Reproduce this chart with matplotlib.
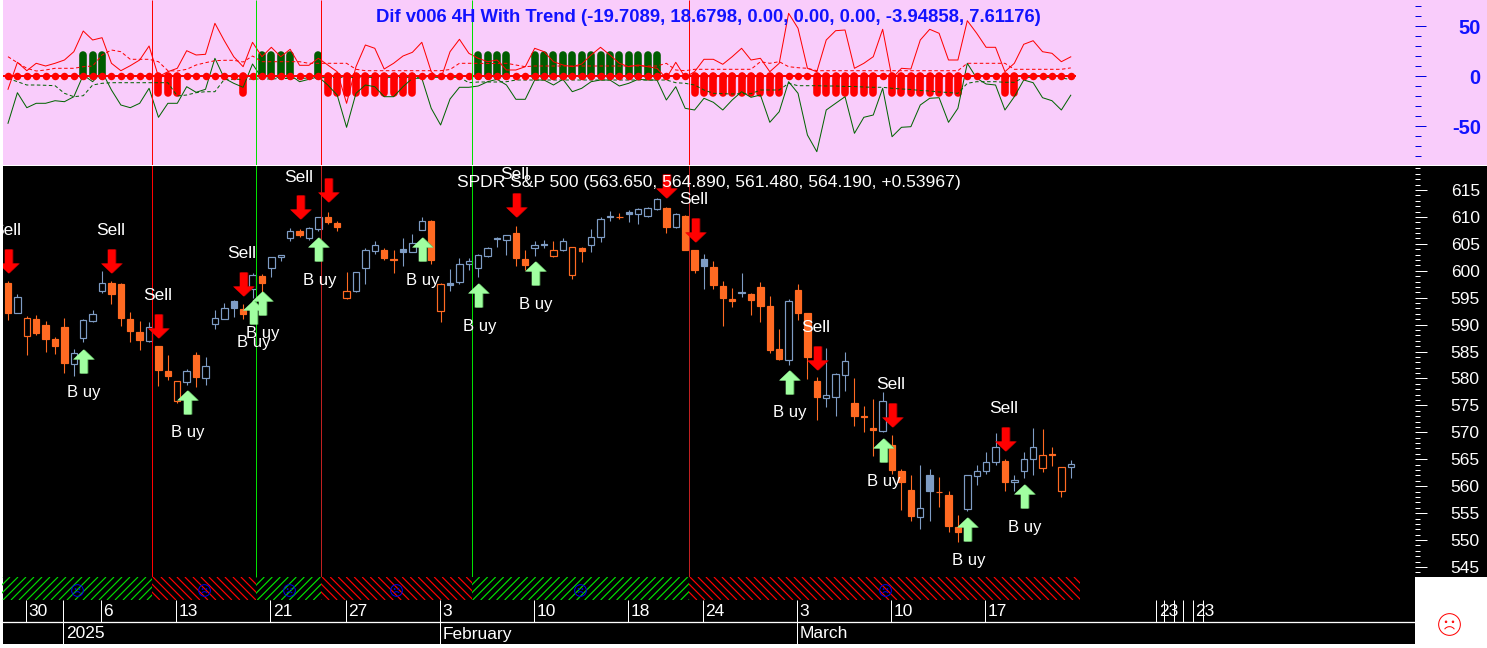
import matplotlib
matplotlib.use('Agg')
import matplotlib.pyplot as plt
from matplotlib.collections import LineCollection
from matplotlib.lines import Line2D
from matplotlib.patches import Rectangle
from matplotlib.path import Path
from matplotlib.ticker import MultipleLocator, FixedLocator
from matplotlib.transforms import Affine2D, ScaledTranslation

plt.rcParams['font.family'] = ['Liberation Sans', 'DejaVu Sans']
plt.rcParams['axes.unicode_minus'] = False

W, H = 1487, 648
DPI = 100
PX = 72 / DPI

# candle bodies and wicks, one entry per bar
body_top = [597.8, 595.1, 591.2, 591.0, 589.9, 587.3, 589.6, 584.7, 590.9, 592.0,
            597.7, 597.7, 597.5, 591.0, 588.6, 589.5, 586.0, 581.4, 579.5, 581.4,
            584.4, 582.3, 591.2, 593.0, 594.3, 592.9, 599.2, 599.0, 602.5, 603.0,
            607.4, 607.4, 607.9, 609.9, 610.0, 608.8, 596.3, 599.7, 603.8, 604.7,
            603.8, 602.1, 604.0, 605.2, 609.2, 609.2, 597.5, 597.7, 601.2, 601.9,
            602.9, 604.3, 606.0, 606.6, 607.0, 602.2, 604.7, 604.9, 603.8, 605.5,
            604.4, 604.3, 606.2, 609.7, 610.2, 610.0, 611.0, 611.5, 611.6, 613.3,
            611.6, 610.5, 610.2, 603.9, 602.2, 600.7, 597.2, 594.7, 596.0, 595.7,
            597.0, 593.5, 585.5, 594.3, 596.4, 592.2, 579.5, 577.0, 580.8, 583.2,
            575.4, 573.0, 570.8, 575.9, 567.6, 562.8, 559.3, 555.9, 562.1, 559.0,
            558.4, 552.4, 562.1, 562.9, 564.4, 567.2, 564.7, 561.1, 565.0, 567.2,
            565.7, 566.0, 563.6, 564.19]
body_bot = [592.2, 592.1, 587.8, 588.5, 587.3, 586.1, 582.9, 582.7, 587.6, 590.7,
            596.3, 595.7, 591.2, 588.8, 587.1, 587.0, 581.6, 580.5, 575.9, 579.3,
            580.3, 580.1, 590.2, 591.1, 593.0, 592.0, 596.7, 597.7, 600.6, 602.5,
            606.0, 606.7, 606.0, 607.8, 609.0, 608.1, 594.9, 596.3, 600.6, 603.7,
            602.4, 602.0, 603.5, 603.5, 607.6, 602.0, 592.6, 597.4, 598.0, 601.2,
            600.6, 602.8, 605.9, 605.8, 602.4, 601.1, 604.2, 604.7, 602.8, 603.8,
            599.3, 603.7, 604.7, 606.3, 610.0, 609.9, 610.5, 610.5, 610.2, 611.5,
            608.2, 608.2, 603.9, 600.1, 600.8, 597.4, 594.9, 594.4, 595.8, 594.6,
            593.5, 585.3, 583.6, 583.5, 592.2, 584.0, 576.6, 576.4, 576.6, 580.7,
            573.0, 572.8, 570.4, 570.3, 563.0, 560.8, 554.5, 554.3, 559.1, 558.9,
            552.6, 551.5, 555.8, 561.9, 562.9, 564.4, 560.8, 560.7, 562.9, 565.0,
            563.3, 565.8, 559.2, 563.65]
highs = [598.1, 595.7, 591.6, 591.8, 590.7, 587.7, 591.2, 585.5, 591.0, 592.7,
         600.0, 598.1, 597.7, 592.3, 590.7, 590.5, 586.0, 584.4, 579.5, 581.7,
         584.9, 584.0, 592.8, 594.1, 594.6, 593.8, 599.5, 599.4, 602.6, 603.0,
         607.9, 607.7, 608.1, 610.0, 611.0, 609.2, 599.7, 599.7, 604.2, 605.5,
         604.2, 603.8, 606.0, 606.8, 610.0, 609.4, 597.7, 600.4, 602.3, 602.4,
         603.2, 604.5, 606.3, 606.6, 608.3, 603.8, 605.5, 605.7, 605.5, 606.0,
         604.5, 604.5, 607.7, 609.9, 611.1, 610.8, 611.2, 611.7, 611.9, 613.5,
         611.8, 610.7, 610.4, 603.9, 603.1, 601.8, 598.1, 596.8, 599.6, 595.9,
         597.9, 595.3, 589.2, 594.7, 597.5, 592.2, 580.3, 585.7, 581.0, 584.9,
         580.1, 574.9, 576.2, 577.5, 569.5, 563.2, 562.1, 563.9, 563.2, 561.7,
         559.1, 554.7, 562.1, 563.9, 566.3, 569.9, 565.0, 562.1, 566.3, 570.8,
         570.6, 567.3, 563.6, 564.89]
lows = [590.9, 592.1, 584.4, 588.1, 585.0, 584.6, 581.1, 580.5, 586.7, 590.4,
        595.9, 593.8, 589.7, 586.8, 585.3, 586.8, 578.6, 579.7, 575.5, 578.8,
        578.4, 578.8, 589.2, 591.1, 591.4, 591.0, 594.9, 596.0, 598.9, 601.8,
        605.6, 606.3, 605.7, 607.4, 608.7, 607.3, 594.8, 596.1, 597.6, 603.2,
        602.0, 599.5, 600.9, 603.4, 607.5, 601.3, 590.5, 596.3, 597.5, 600.1,
        598.9, 602.6, 604.5, 602.9, 600.8, 600.1, 602.7, 604.2, 602.6, 603.7,
        598.5, 601.7, 603.4, 605.4, 609.3, 609.7, 609.0, 608.7, 609.9, 611.3,
        607.1, 608.0, 603.8, 599.6, 596.6, 596.6, 589.7, 593.3, 595.1, 591.8,
        590.5, 584.7, 583.4, 582.5, 590.9, 579.9, 572.3, 574.7, 573.0, 577.7,
        571.2, 570.1, 565.6, 570.0, 562.3, 555.5, 553.5, 552.1, 553.5, 556.1,
        551.5, 549.6, 555.4, 560.2, 562.3, 563.9, 559.1, 559.1, 561.5, 562.1,
        562.7, 563.7, 558.0, 561.48]
# o/O = orange filled/hollow, B/b = blue filled/hollow
candle_kind = ('obOoooobbb' 'boooobooOb' 'obbbBobobb' 'bobbooObbb' 'ooBbboOBbb'
               'bbBboobBOb' 'OobbBoBbbb' 'obooBoooBo' 'ooobooobbb' 'ooobooobBo'
               'oobbbbobbb' 'OoOb')

sell_bars = [0, 11, 16, 25, 31, 34, 54, 70, 73, 86, 94, 106]
sell_price = [599.6, 599.6, 587.6, 595.4, 609.6, 612.7, 610.0, 613.5, 605.4, 581.6, 571.0, 566.6]
buy_bars = [8, 19, 26, 27, 33, 44, 50, 56, 83, 93, 102, 108]
buy_price = [585.4, 577.9, 594.6, 596.3, 606.2, 606.2, 597.7, 601.8, 581.6, 568.9, 554.2, 560.4]

# bar positions of the vertical signal lines, red and green in turn
signal_bars = [15.3, 26.4, 33.3, 49.3, 72.4]
signal_colors = ['#ff0000', '#00e000', '#ff0000', '#00e000', '#ff0000']

# oscillator pane
upper_line = [-13.8, 13.2, 4.8, 12.2, 9.5, 12.2, 15.5, 23.8, 44.5, 35.5,
              37.8, 12.2, 4.8, 9.8, 15.5, 29.5, -1.2, 3.8, 7.2, 24.8,
              20.5, 21.2, 52.2, 34.8, 18.8, 8.8, 33.2, 18.8, 28.2, 18.8,
              26.2, 10.2, 10.2, 17.2, 10.5, 3.8, -27.8, 8.8, 30.5, 27.2,
              6.5, 12.2, 19.5, 23.2, 33.2, 3.8, -3.8, 23.8, 36.2, 22.2,
              17.2, 13.8, 15.5, 5.5, 5.5, 8.8, 27.2, 23.8, 13.8, 10.5,
              8.8, 11.5, 20.5, 28.2, 20.5, 12.2, 8.8, 10.5, 8.8, 7.2,
              -2.8, 13.2, -1.8, 3.8, 16.2, 16.2, 11.2, 18.8, 27.2, 15.5,
              17.2, 3.8, 12.2, 62.2, 47.2, 7.2, 3.8, 35.5, 44.8, 45.5,
              7.2, 12.2, 18.8, 46.2, -2.8, 7.2, 6.5, 35.5, 46.2, 42.2,
              15.5, 15.5, 54.8, 42.2, 28.2, 28.2, 3.8, 12.2, 31.2, 34.8,
              23.8, 22.2, 13.8, 18.68]
lower_line = [-47.8, -17.2, -32.2, -27.8, -27.8, -25.2, -26.2, -21.2, 0.5, -6.2,
              3.8, -14.5, -29.5, -32.2, -27.8, -12.8, -41.8, -27.8, -27.8, -11.2,
              -16.8, -13.8, 17.2, -2.8, -7.8, -11.8, 11.5, -2.8, 0.5, -2.8,
              0.5, -6.2, -3.8, -1.2, -9.5, -19.5, -51.8, -17.8, -9.5, -11.2,
              -21.2, -21.2, -11.2, -2.8, -2.8, -32.8, -49.5, -23.5, -11.8, -11.8,
              -10.5, -6.2, -3.8, -9.5, -23.8, -23.8, -4.5, -4.5, -9.5, -3.8,
              -16.2, -12.8, -6.2, -4.5, -4.5, -10.5, -7.8, -3.8, -4.5, -4.5,
              -24.5, -11.2, -32.8, -34.5, -22.8, -26.8, -34.5, -24.5, -16.2, -21.8,
              -19.5, -46.8, -36.2, -6.2, -17.8, -59.5, -76.2, -34.5, -27.8, -21.2,
              -57.8, -41.8, -39.5, -12.8, -61.2, -51.8, -51.2, -29.5, -22.8, -22.2,
              -46.8, -32.8, 12.2, -2.8, -8.5, -9.5, -34.5, -21.2, -4.5, -7.2,
              -22.2, -25.2, -34.5, -19.71]
upper_dash = [18.8, 12.8, 7.2, 4.5, 5.5, 7.2, 7.2, 7.2, 8.8, 9.5,
              20.5, 25.5, 23.8, 16.2, 16.2, 16.2, 13.8, 4.8, 4.5, 6.2,
              10.5, 12.8, 14.8, 15.2, 15.2, 13.5, 19.5, 13.8, 13.8, 13.8,
              13.8, 13.8, 12.2, 12.2, 12.2, 12.2, 12.2, 6.2, 4.8, 4.8,
              4.8, 4.8, 4.8, 4.8, 4.8, 4.8, 4.8, 6.0, 12.2, 12.2,
              12.2, 12.0, 12.0, 12.2, 10.5, 8.8, 9.5, 9.5, 9.5, 9.5,
              9.5, 9.5, 9.5, 9.5, 9.5, 9.5, 9.5, 9.5, 9.5, 9.5,
              12.2, 5.5, 4.8, 6.2, 6.2, 6.2, 6.2, 6.2, 6.2, 6.2,
              13.8, 12.2, 13.8, 8.8, 7.8, 7.2, 4.8, 4.8, 4.8, 4.8,
              4.8, 4.8, 4.8, 4.8, 4.8, 4.8, 4.8, 4.8, 4.8, 4.8,
              4.8, 4.8, 12.2, 12.2, 12.2, 12.2, 12.2, 6.2, 6.2, 6.2,
              6.2, 6.2, 6.2, 7.61]
lower_dash = [-2.8, -6.2, -9.5, -9.5, -9.8, -10.2, -17.8, -21.2, -20.2, -9.5,
              -7.8, -7.2, -7.2, -7.2, -7.2, -7.2, -7.2, -7.2, -20.5, -19.5,
              -17.2, -16.2, -16.2, -3.8, -3.8, -3.8, -3.5, -3.5, -3.5, -3.0,
              -3.0, -3.0, -2.5, -2.5, -1.8, -1.8, -1.8, -1.8, -1.8, -1.8,
              -1.8, -1.8, -1.8, -1.8, -1.8, -1.8, -1.8, -1.8, -1.8, -7.2,
              -6.5, -6.5, -6.5, -6.2, -4.5, -4.5, -4.5, -4.5, -4.5, -4.5,
              -4.5, -4.5, -4.5, -4.5, -4.5, -4.5, -4.5, -4.5, -4.5, -4.5,
              -4.5, -7.2, -7.8, -9.5, -14.5, -17.8, -18.2, -18.5, -18.2, -18.2,
              -14.5, -14.5, -14.5, -7.8, -10.2, -10.2, -10.2, -10.5, -10.5, -11.0,
              -11.0, -11.5, -11.8, -11.8, -12.8, -13.5, -14.0, -15.0, -15.5, -16.5,
              -17.0, -17.8, -7.8, -6.2, -6.2, -6.2, -6.8, -6.8, -1.8, -1.8,
              -1.8, -1.8, -2.5, -3.95]
# g = green histogram bar, r = red histogram bar, . = none
hist_state = ('........ggg.....rrr......r.gggg..grrrrrrrrrr......gggg..'
              'gggggggggggggg...rrrrrrrrrr...rrrrrrr.rrrrrrrr....rr......')
hist_green = 20.3
hist_red = -17.7

day_bars = [2, 6, 10, 18, 28, 36, 46, 56, 66, 74, 84, 94, 104, 122.2, 123, 124.1, 125, 126.1, 127.2]
day_labels = ['30', '', '6', '13', '21', '27', '3', '10', '18', '24', '3', '10', '17',
              '23', '', '', '', '23', '']
month_bars = [6, 46, 84]
month_labels = ['2025', 'February', 'March']

ORANGE = '#ff6a22'
BLUE = '#7e9cc4'
PINK = '#f9ccfb'
TXT_BLUE = '#1212ff'
BAR0_PX = 8
BAR_PX = 9.405
LEFT_PX, RIGHT_PX = 3, 1415


def bar_lim():
    return (LEFT_PX - BAR0_PX) / BAR_PX, (RIGHT_PX - BAR0_PX) / BAR_PX


def pane(fig, top, bottom, color):
    ax = fig.add_axes([LEFT_PX / W, 1 - bottom / H, (RIGHT_PX - LEFT_PX) / W, (bottom - top) / H])
    ax.set_facecolor(color)
    ax.set_xlim(*bar_lim())
    ax.xaxis.set_visible(False)
    for spine in ax.spines.values():
        spine.set_visible(False)
    return ax


def arrow_path(direction, shift=0):
    # tip at the origin, direction +1 points up, -1 points down
    pts = [(0, 0), (10.5, 10), (3.8, 10), (3.8, 24), (-3.8, 24), (-3.8, 10), (-10.5, 10), (0, 0)]
    return Path([(x + shift, -direction * y) for x, y in pts], closed=True)


def frown_path():
    mouth = Path.arc(35, 145).transformed(Affine2D().scale(0.55).translate(0, -0.75))
    eye_l = Path.unit_circle().transformed(Affine2D().scale(0.07).translate(-0.32, 0.25))
    eye_r = Path.unit_circle().transformed(Affine2D().scale(0.07).translate(0.32, 0.25))
    return Path.make_compound_path(Path.unit_circle(), mouth, eye_l, eye_r)


def draw_arrows(ax, bars, prices, direction, color, shade):
    ax.plot(bars, prices, ls='none', marker=arrow_path(direction, 1), ms=48 * PX,
            mfc=shade, mew=0, zorder=5)
    ax.plot(bars, prices, ls='none', marker=arrow_path(direction), ms=48 * PX,
            mfc=color, mew=0, zorder=6)


def draw_candles(ax):
    bars = range(len(body_top))
    colors = [ORANGE if k in 'oO' else BLUE for k in candle_kind]
    faces = [c if k in 'oB' else 'black' for c, k in zip(colors, candle_kind)]
    heights = [t - b for t, b in zip(body_top, body_bot)]
    ax.vlines(bars, lows, highs, colors=colors, lw=1.1 * PX, zorder=2)
    ax.bar(bars, heights, bottom=body_bot, width=0.68, color=faces, edgecolor=colors,
           linewidth=1.2 * PX, zorder=3)


def draw_osc(ax):
    bars = list(range(len(upper_line)))
    ax.set_ylim(-89.5, 75.5)
    for state, color, level in (('g', '#005c00', hist_green), ('r', '#ff0000', hist_red)):
        xs = [b for b, s in zip(bars, hist_state) if s == state]
        ax.vlines(xs, 0, level, colors=color, lw=7.6 * PX, capstyle='round', zorder=2)
    ax.plot(bars, upper_line, color='#ff0000', lw=1 * PX, zorder=3)
    ax.plot(bars, lower_line, color='#006400', lw=1 * PX, zorder=3)
    ax.plot(bars, upper_dash, color='#ff0000', lw=1 * PX, dashes=(3.5, 2.5), zorder=3)
    ax.plot(bars, lower_dash, color='#006400', lw=1 * PX, dashes=(3.5, 2.5), zorder=3)
    ax.plot([bar_lim()[0], len(bars) - 0.6], [0, 0], color='#ff0000', lw=2 * PX, zorder=4)
    ax.plot(bars, [0] * len(bars), ls='none', marker='o', ms=7.5 * PX, color='#ff0000', mew=0, zorder=4)
    ax.vlines(signal_bars, -89.5, 75.5, colors=signal_colors, lw=1 * PX, zorder=4)

    ax.yaxis.tick_right()
    ax.yaxis.set_major_locator(FixedLocator([-50, 0, 50]))
    ax.yaxis.set_minor_locator(FixedLocator(range(-80, 80, 10)))
    ax.tick_params(axis='y', which='major', length=11 * PX, width=1 * PX, color='#0000e0',
                   labelcolor=TXT_BLUE, labelsize=14.5, pad=39.5)
    ax.tick_params(axis='y', which='minor', length=6 * PX, width=1 * PX, color='#0000e0')
    nudge = ScaledTranslation(0, -1.5 / DPI, ax.figure.dpi_scale_trans)
    for lab in ax.get_yticklabels():
        lab.set_ha('right')
        lab.set_fontweight('bold')
        lab.set_transform(lab.get_transform() + nudge)


def draw_price(ax):
    ax.set_ylim(543.14, 619.45)
    draw_candles(ax)
    ax.vlines(signal_bars, 543, 620, colors=['#ff0000', '#00e000', '#c02020', '#00e000', '#c02020'],
              lw=1 * PX, zorder=4)
    draw_arrows(ax, sell_bars, sell_price, -1, '#ff0000', '#b00000')
    draw_arrows(ax, buy_bars, buy_price, 1, '#a0ffa0', '#60b860')
    for bar, price in zip(sell_bars, sell_price):
        ax.annotate('Sell', (bar, price), xytext=(-1, 42), textcoords='offset pixels', color='white',
                    fontsize=12.5, ha='center', va='center', zorder=7, clip_on=True)
    for bar, price in zip(buy_bars, buy_price):
        ax.annotate('B uy', (bar, price), xytext=(1, -43), textcoords='offset pixels', color='white',
                    fontsize=12, ha='center', va='center', zorder=7, clip_on=True)

    ax.yaxis.tick_right()
    ax.yaxis.set_major_locator(MultipleLocator(5))
    ax.yaxis.set_minor_locator(MultipleLocator(1))
    ax.tick_params(axis='y', which='major', length=12 * PX, width=1 * PX, color='white',
                   labelcolor='white', labelsize=12.5, pad=38)
    ax.tick_params(axis='y', which='minor', length=5 * PX, width=1 * PX, color='white')
    for lab in ax.get_yticklabels():
        lab.set_ha('right')


def draw_strip(ax):
    ax.set_ylim(0, 1)
    ax.yaxis.set_visible(False)
    edges = [-0.64] + signal_bars + [114]
    colors = ['#00d800'] + signal_colors
    step = 8 / BAR_PX
    slant = 23 / BAR_PX
    for i, color in enumerate(colors):
        rect = Rectangle((edges[i], 0), edges[i + 1] - edges[i], 1, facecolor='black', lw=0)
        ax.add_patch(rect)
        segs = []
        x = edges[i] - slant
        while x < edges[i + 1]:
            if i % 2 == 0:
                segs.append([(x, 0), (x + slant, 1)])
            else:
                segs.append([(x + slant, 0), (x, 1)])
            x += step
        lines = LineCollection(segs, colors=color, linewidths=1.2 * PX, zorder=2)
        ax.add_collection(lines)
        lines.set_clip_path(rect)
    centers = [(edges[i] + edges[i + 1]) / 2 for i in range(len(colors))]
    ax.plot(centers, [0.45] * len(centers), ls='none', marker=frown_path(), ms=11.7 * PX,
            mfc='none', mec='#0000e8', mew=1 * PX, zorder=4)


def draw_dates(ax):
    ax.set_ylim(0, 1)
    ax.yaxis.set_visible(False)
    ax.axhline(0.5, color='white', lw=1.3 * PX)
    ax.vlines([b - 0.1 for b in day_bars], 0.5, 1, colors='white', lw=1 * PX)
    ax.vlines([b - 0.1 for b in month_bars], 0, 0.5, colors='white', lw=1 * PX)
    for bar, label in zip(day_bars, day_labels):
        ax.annotate(label, (bar - 0.1, 0.75), xytext=(2.5, -1), textcoords='offset pixels',
                    color='white', fontsize=12.5, va='center')
    for bar, label in zip(month_bars, month_labels):
        ax.annotate(label, (bar - 0.1, 0.25), xytext=(2.5, -1), textcoords='offset pixels',
                    color='white', fontsize=12.5, va='center')


def main():
    fig = plt.figure(figsize=(W / DPI, H / DPI), dpi=DPI, facecolor='white')

    # parts of the panes right of the plotting area, under the tick labels
    for top, bottom, color in ((0, 165, PINK), (166, 577, 'black')):
        fig.add_artist(Rectangle((RIGHT_PX / W, 1 - bottom / H), 1 - RIGHT_PX / W, (bottom - top) / H,
                                 transform=fig.transFigure, facecolor=color, lw=0, zorder=-1))

    ax_osc = pane(fig, 0, 165, PINK)
    ax_price = pane(fig, 166, 577, 'black')
    ax_strip = pane(fig, 577, 600, 'black')
    ax_dates = pane(fig, 600, 644, 'black')

    draw_osc(ax_osc)
    draw_price(ax_price)
    draw_strip(ax_strip)
    draw_dates(ax_dates)

    fig.text(708 / W, 1 - 17 / H, 'Dif v006 4H With Trend (-19.7089, 18.6798, 0.00, 0.00, 0.00, -3.94858, 7.61176)',
             color=TXT_BLUE, fontsize=13.3, fontweight='bold', ha='center', va='center', zorder=10)
    fig.text(708.5 / W, 1 - 182.5 / H, 'SPDR S&P 500 (563.650, 564.890, 561.480, 564.190, +0.53967)',
             color='white', fontsize=12.6, ha='center', va='center', zorder=10)

    fig.add_artist(Line2D([1449 / W], [1 - 623.7 / H], transform=fig.transFigure, marker=frown_path(),
                          ms=21.7 * PX, mfc='none', mec='#ff0000', mew=1 * PX, ls='none'))

    fig.savefig('out.png', dpi=DPI, facecolor='white')


if __name__ == '__main__':
    main()
